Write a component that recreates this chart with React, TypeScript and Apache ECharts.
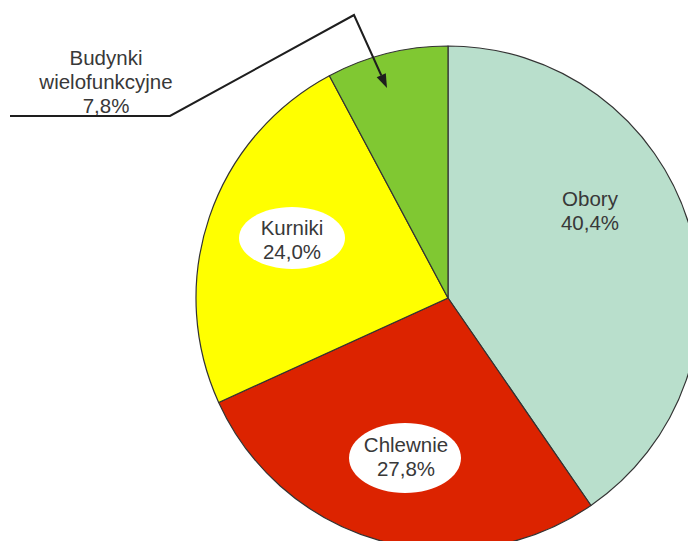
import React, { useEffect, useRef } from 'react';
import * as echarts from 'echarts';

const categories = ['Obory', 'Chlewnie', 'Kurniki', 'Budynki\nwielofunkcyjne'];
const shares = [40.4, 27.8, 24.0, 7.8];
const sliceColors = ['#b9dfcc', '#dc2300', '#ffff00', '#80c832'];

// label layout (positions only, not data)
const labelPos = [
  { x: 590, y: 210, ellipse: null as null | { cx: number; cy: number; rx: number; ry: number } },
  { x: 406, y: 456, ellipse: { cx: 405, cy: 458, rx: 56, ry: 35 } },
  { x: 292, y: 239, ellipse: { cx: 292, cy: 238, rx: 53, ry: 31 } },
  { x: 106, y: 81, ellipse: null },
];

const fmt = (v: number) => v.toFixed(1).replace('.', ',') + '%';

export default function App() {
  const ref = useRef<HTMLDivElement>(null);
  useEffect(() => {
    if (!ref.current) return;
    const chart = echarts.init(ref.current, null, { renderer: 'svg' });
    const font = 'Liberation Sans, Arial, sans-serif';
    const graphics: any[] = [];
    categories.forEach((name, i) => {
      const p = labelPos[i];
      if (p.ellipse) {
        graphics.push({
          type: 'ellipse',
          shape: { cx: p.ellipse.cx, cy: p.ellipse.cy, rx: p.ellipse.rx, ry: p.ellipse.ry },
          style: { fill: '#ffffff' },
          z: 10,
        });
      }
      graphics.push({
        type: 'text',
        x: p.x,
        y: p.y,
        z: 11,
        style: {
          text: name + '\n' + fmt(shares[i]),
          fill: '#383838',
          fontSize: 20.5,
          fontFamily: font,
          lineHeight: 24,
          align: 'center',
          verticalAlign: 'middle',
        },
      });
    });
    // leader line with arrow for the small slice
    const tip = [387, 88];
    const peak = [354, 15];
    const dx = tip[0] - peak[0];
    const dy = tip[1] - peak[1];
    const len = Math.sqrt(dx * dx + dy * dy);
    const ux = dx / len, uy = dy / len;
    const aL = 14, aW = 5;
    const base = [tip[0] - ux * aL, tip[1] - uy * aL];
    graphics.push({
      type: 'polyline',
      z: 12,
      shape: { points: [[10, 116], [170, 116], peak, base] },
      style: { stroke: '#1e1e1e', lineWidth: 2, fill: 'none' },
    });
    graphics.push({
      type: 'polygon',
      z: 12,
      shape: {
        points: [
          tip,
          [base[0] - uy * aW, base[1] + ux * aW],
          [base[0] + uy * aW, base[1] - ux * aW],
        ],
      },
      style: { fill: '#1e1e1e' },
    });

    chart.setOption({
      animation: false,
      backgroundColor: '#ffffff',
      series: [
        {
          type: 'pie',
          center: [448, 298],
          radius: 252,
          startAngle: 90,
          clockwise: true,
          label: { show: false },
          labelLine: { show: false },
          emphasis: { disabled: true },
          itemStyle: { borderColor: '#333333', borderWidth: 1.2 },
          data: categories.map((name, i) => ({
            name,
            value: shares[i],
            itemStyle: { color: sliceColors[i] },
          })),
        },
      ],
      graphic: graphics,
    });
    return () => chart.dispose();
  }, []);
  return (
    <div
      ref={ref}
      style={{ position: 'fixed', left: 0, top: 0, width: 688, height: 541, background: '#fff' }}
    />
  );
}
